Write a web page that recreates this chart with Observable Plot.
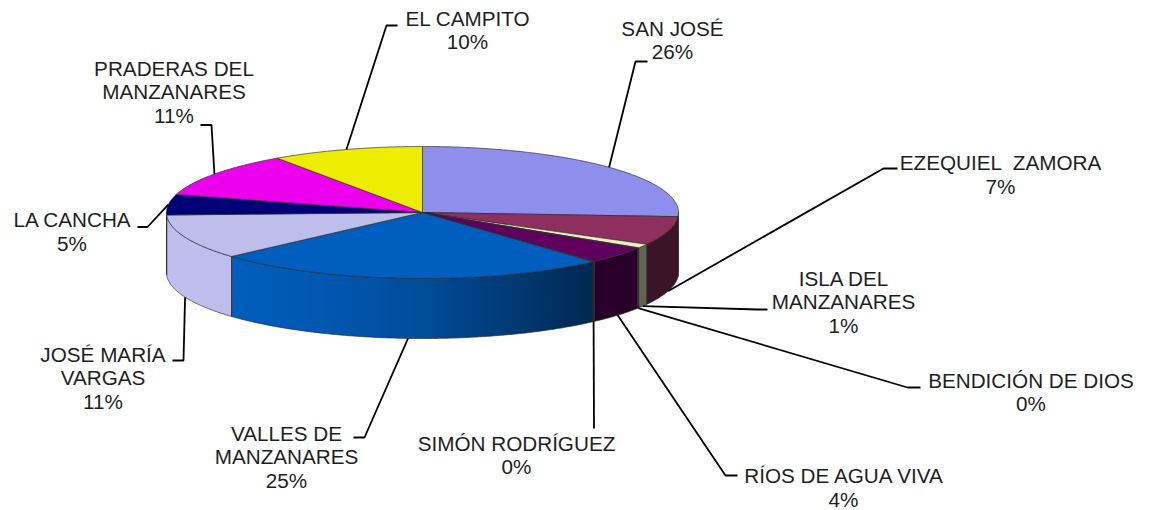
<!DOCTYPE html>
<html>
<head>
<meta charset="utf-8">
<script src="https://cdn.jsdelivr.net/npm/d3@7"></script>
<script src="https://cdn.jsdelivr.net/npm/@observablehq/plot@0.6"></script>
<style>
  html, body { margin: 0; padding: 0; background: #ffffff; }
  #chart svg { display: block; }
</style>
</head>
<body>
<div id="chart"></div>
<script>
// ---------- DATA ----------
const categories = [
  "SAN JOSÉ",
  "EZEQUIEL  ZAMORA",
  "ISLA DEL\nMANZANARES",
  "BENDICIÓN DE DIOS",
  "RÍOS DE AGUA VIVA",
  "SIMÓN RODRÍGUEZ",
  "VALLES DE\nMANZANARES",
  "JOSÉ MARÍA\nVARGAS",
  "LA CANCHA",
  "PRADERAS DEL\nMANZANARES",
  "EL CAMPITO"
];
const values = [26.0, 7.0, 1.0, 0.1, 4.2, 0.1, 25.0, 11.0, 5.0, 11.0, 9.6];
const colors = ["#9999FF", "#993366", "#FFFFCC", "#CCFFFF", "#660066", "#FF8080",
                "#0066CC", "#CCCCFF", "#000080", "#FF00FF", "#FFFF00"];

// ---------- LAYOUT (positions, not data) ----------
const pie = {cx: 422, cy: 212, rx: 256, ry: 66, depth: 60};
// label centre x, first-line baseline y
const labelPos = [
  [672, 35], [1000, 169.5], [843, 285], [1030.5, 387], [843, 482.5], [516, 450],
  [286, 440], [102.5, 361], [71.5, 226.5], [173.5, 75], [467, 25]
];
// leader elbow (x,y) and end near label (x,y)
const leaderPos = [
  [635, 61, 647, 61], [883, 168, 897, 168], [757, 309, 767, 309], [907, 387, 920, 387],
  [725, 475, 737, 475], [593.5, 428, 593.5, 428], [364, 437, 353, 437], [183, 360, 172, 360],
  [147, 226.5, 137, 226.5], [211, 124.5, 200, 124.5], [386, 25, 397, 25]
];
const fontSize = 20.7, lineH = 24;

// ---------- GEOMETRY ----------
const total = d3.sum(values);
let acc = 0;
const slices = values.map((v, i) => {
  const t0 = acc / total * 2 * Math.PI; acc += v;
  const t1 = acc / total * 2 * Math.PI;
  return {i, t0, t1, tm: (t0 + t1) / 2};
});
const topPt = t => [pie.cx + pie.rx * Math.sin(t), pie.cy - pie.ry * Math.cos(t)];
const botPt = t => [pie.cx + pie.rx * Math.sin(t), pie.cy - pie.ry * Math.cos(t) + pie.depth];
function arc(a, b, f) {
  const n = Math.max(1, Math.ceil(Math.abs(b - a) / (Math.PI / 360)));
  return d3.range(n + 1).map(k => f(a + (b - a) * k / n));
}
function shadeColor(c, f) {
  const r = d3.rgb(c);
  return d3.rgb(r.r * f, r.g * f, r.b * f).formatHex();
}
const sideShade = d3.scaleLinear()
  .domain([0, 138, 160, 180, 202, 228, 270, 360])
  .range([0.39, 0.39, 0.57, 0.75, 0.86, 0.93, 0.94, 0.94])
  .clamp(true);

const sides = [], sideOutlines = [], tops = [], leaders = [], gradients = [];
slices.forEach(s => {
  const a0 = Math.max(s.t0, Math.PI / 2), a1 = Math.min(s.t1, 3 * Math.PI / 2);
  if (a1 > a0) {
    const gid = `sidegrad-${s.i}`;
    const xl = topPt(a1)[0], xr = topPt(a0)[0];
    const n = 24;
    const stops = d3.range(n + 1).map(k => {
      const x = xl + (xr - xl) * k / n;
      const u = Math.max(-1, Math.min(1, (x - pie.cx) / pie.rx));
      const t = Math.PI - Math.asin(u);
      return {offset: k / n, color: shadeColor(colors[s.i], sideShade(t * 180 / Math.PI))};
    });
    gradients.push({gid, xl, xr, stops});
    const pts = [...arc(a0, a1, topPt), ...arc(a1, a0, botPt), topPt(a0)];
    pts.forEach(([x, y]) => {
      sides.push({id: `side-${s.i}`, x, y, col: `url(#${gid})`});
      sideOutlines.push({id: `so-${s.i}`, x, y});
    });
  }
  const col = shadeColor(colors[s.i], 0.93);
  const pts = [[pie.cx, pie.cy], ...arc(s.t0, s.t1, topPt), [pie.cx, pie.cy]];
  pts.forEach(([x, y]) => tops.push({id: `top-${s.i}`, x, y, col}));

  const anchor = Math.cos(s.tm) < 0 ? botPt(s.tm) : topPt(s.tm);
  const [ex, ey, tx, ty] = leaderPos[s.i];
  [anchor, [ex, ey], [tx, ty]].forEach(([x, y]) => leaders.push({id: `ld-${s.i}`, x, y}));
});

const labels = slices.map(s => ({
  x: labelPos[s.i][0],
  y: labelPos[s.i][1] - 0.71 * lineH,
  text: `${categories[s.i]}\n${Math.round(values[s.i] / total * 100)}%`
}));

// ---------- PLOT ----------
const chart = Plot.plot({
  width: 1149,
  height: 510,
  margin: 0,
  x: {domain: [0, 1149], range: [0, 1149], axis: null},
  y: {domain: [0, 510], range: [0, 510], axis: null},
  color: {type: "identity"},
  style: {fontFamily: "'Liberation Sans', Arial, sans-serif", background: "#ffffff"},
  marks: [
    Plot.line(sides, {x: "x", y: "y", z: "id", fill: "col", stroke: "none"}),
    Plot.line(sideOutlines, {x: "x", y: "y", z: "id", stroke: "#2a2a2a", strokeWidth: 0.8, strokeOpacity: 0.85}),
    Plot.line(tops, {x: "x", y: "y", z: "id", fill: "col", stroke: "#2a2a2a", strokeWidth: 0.8, strokeOpacity: 0.85}),
    Plot.line(leaders, {x: "x", y: "y", z: "id", stroke: "#000000", strokeWidth: 1.8, strokeLinejoin: "miter", strokeLinecap: "butt"}),
    Plot.text(labels, {
      x: "x", y: "y", text: "text",
      fontSize, lineHeight: lineH / fontSize, lineAnchor: "top",
      textAnchor: "middle", fill: "#1e1e1e"
    })
  ]
});

// gradient definitions for the shaded side walls
const defs = d3.select(chart).insert("defs", ":first-child");
gradients.forEach(g => {
  const lg = defs.append("linearGradient")
    .attr("id", g.gid)
    .attr("gradientUnits", "userSpaceOnUse")
    .attr("x1", g.xl).attr("y1", 0).attr("x2", g.xr).attr("y2", 0);
  g.stops.forEach(st => lg.append("stop").attr("offset", st.offset).attr("stop-color", st.color));
});

document.getElementById("chart").appendChild(chart);
</script>
</body>
</html>
